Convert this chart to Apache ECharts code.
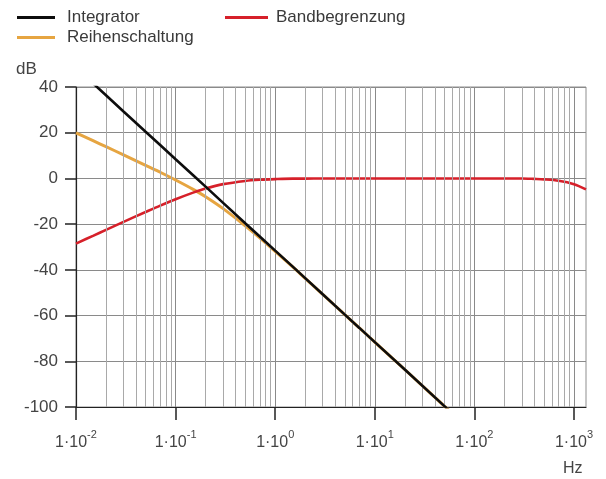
<!DOCTYPE html>
<html>
<head>
<meta charset="utf-8">
<script src="https://cdn.jsdelivr.net/npm/echarts@6/dist/echarts.min.js"></script>
<style>
  html, body { margin: 0; padding: 0; background: #fff; }
  #chart { width: 606px; height: 479px; }
</style>
</head>
<body>
<div id="chart"></div>
<script>
// Frequency points (Hz) at which the curves are sampled
const freqHz = [0.01, 0.015, 0.02, 0.03, 0.05, 0.07, 0.1, 0.15, 0.2, 0.3, 0.5, 0.7,
                1, 1.5, 2, 3, 5, 7, 10, 20, 50, 100, 200, 300, 400, 500, 700, 1000, 1320];

// Magnitude responses in dB (null = not drawn)
const integratorDb = [48.4, 41.4, 36.4, 29.3, 20.4, 14.6, 8.4, 1.4, -3.6, -10.7, -19.6, -25.4,
                      -31.6, -38.6, -43.6, -50.7, -59.6, -65.4, -71.6, -83.6, -99.6, -111.6,
                      null, null, null, null, null, null, null];
const reihenDb = [19.9, 16.4, 13.9, 10.3, 5.7, 2.7, -0.7, -4.8, -8.0, -13.2, -20.7, -26.0,
                  -31.9, -38.7, -43.7, -50.7, -59.6, -65.4, -71.6, -83.6, -99.6, -111.6,
                  null, null, null, null, null, null, null];
const bandDb = [-28.5, -25.0, -22.5, -19.0, -14.7, -11.9, -9.1, -6.2, -4.4, -2.5, -1.1, -0.6,
                -0.3, -0.1, -0.1, 0, 0, 0, 0, 0, 0, 0, 0, 0, -0.2, -0.4, -1.0, -2.5, -4.8];

// Decade ticks and the 2..9 subdivisions drawn as thin grid lines
const decadeTicks = [0.01, 0.1, 1, 10, 100, 1000];
const minorGrid = [];
for (const d of [0.01, 0.1, 1, 10, 100]) {
  for (let k = 2; k <= 9; k++) minorGrid.push(+(d * k).toPrecision(3));
}

const seriesNames = ['Integrator', 'Reihenschaltung', 'Bandbegrenzung'];
const FONT = '"Liberation Sans", Arial, sans-serif';

function pairs(values) {
  return freqHz.map((f, i) => [f, values[i]]);
}

const chart = echarts.init(document.getElementById('chart'), null, { renderer: 'canvas' });

chart.setOption({
  backgroundColor: '#ffffff',
  animation: false,
  textStyle: { fontFamily: FONT },
  grid: {
    left: 76, right: 20, top: 87, bottom: 72,
    show: true, borderColor: '#8f8f8f', borderWidth: 1, backgroundColor: 'transparent'
  },
  legend: [
    {
      data: [seriesNames[0], seriesNames[1]],
      orient: 'vertical', left: 12, top: 4, padding: 5,
      icon: 'rect', itemWidth: 38, itemHeight: 3, itemGap: 3,
      selectedMode: false,
      textStyle: { fontSize: 17, color: '#3a3a3a', fontFamily: FONT, padding: [0, 0, 0, 7] }
    },
    {
      data: [seriesNames[2]],
      orient: 'horizontal', left: 220, top: 4, padding: 5,
      icon: 'rect', itemWidth: 43, itemHeight: 3,
      selectedMode: false,
      textStyle: { fontSize: 17, color: '#3a3a3a', fontFamily: FONT, padding: [0, 0, 0, 3] }
    }
  ],
  xAxis: {
    type: 'log', logBase: 10, min: 0.01, max: 1320,
    axisLine: { show: true, onZero: false, lineStyle: { color: '#222', width: 1.2 } },
    axisTick: { show: true, length: 13, customValues: decadeTicks, lineStyle: { color: '#222', width: 1.5 } },
    axisLabel: {
      customValues: decadeTicks,
      margin: 22,
      color: '#444',
      formatter: function (v) {
        const e = Math.round(Math.log10(v));
        return '{m|1·10}{s|' + e + '}';
      },
      rich: {
        m: { fontSize: 16, lineHeight: 22, color: '#444', fontFamily: FONT, verticalAlign: 'bottom' },
        s: { fontSize: 11, lineHeight: 22, color: '#444', fontFamily: FONT, verticalAlign: 'top' }
      }
    },
    splitLine: { show: true, lineStyle: { color: '#8a8a8a', width: 1 } }
  },
  yAxis: {
    type: 'value', min: -100, max: 40, interval: 20,
    axisLine: { show: true, onZero: false, lineStyle: { color: '#222', width: 1.2 } },
    axisTick: { show: true, length: 11, lineStyle: { color: '#222', width: 1.5 } },
    axisLabel: { fontSize: 17, color: '#444', margin: 18, fontFamily: FONT },
    splitLine: { show: true, lineStyle: { color: '#8a8a8a', width: 1 } }
  },
  graphic: [
    { type: 'text', left: 16, top: 61, style: { text: 'dB', fontSize: 17, fill: '#444', fontFamily: FONT } },
    { type: 'text', left: 563, top: 461, style: { text: 'Hz', fontSize: 16, fill: '#444', fontFamily: FONT } }
  ],
  series: [
    {
      // sub-decade grid lines
      type: 'line', name: 'minor', data: [], z: 1, silent: true,
      markLine: {
        silent: true, symbol: 'none', animation: false,
        label: { show: false },
        lineStyle: { color: '#a9a9a9', width: 1, type: 'solid' },
        emphasis: { disabled: true },
        data: minorGrid.map(v => ({ xAxis: v }))
      }
    },
    {
      name: seriesNames[1], type: 'line', data: pairs(reihenDb), z: 3,
      showSymbol: false, smooth: 0.3, clip: true, connectNulls: false,
      color: '#e6a541', lineStyle: { color: '#e6a541', width: 3 }
    },
    {
      name: seriesNames[2], type: 'line', data: pairs(bandDb), z: 4,
      showSymbol: false, smooth: 0.3, clip: true,
      color: '#d6202a', lineStyle: { color: '#d6202a', width: 2.6 }
    },
    {
      name: seriesNames[0], type: 'line', data: pairs(integratorDb), z: 5,
      showSymbol: false, clip: true, connectNulls: false,
      color: '#0d0d0d', lineStyle: { color: '#0d0d0d', width: 2.6 }
    }
  ]
});
</script>
</body>
</html>
